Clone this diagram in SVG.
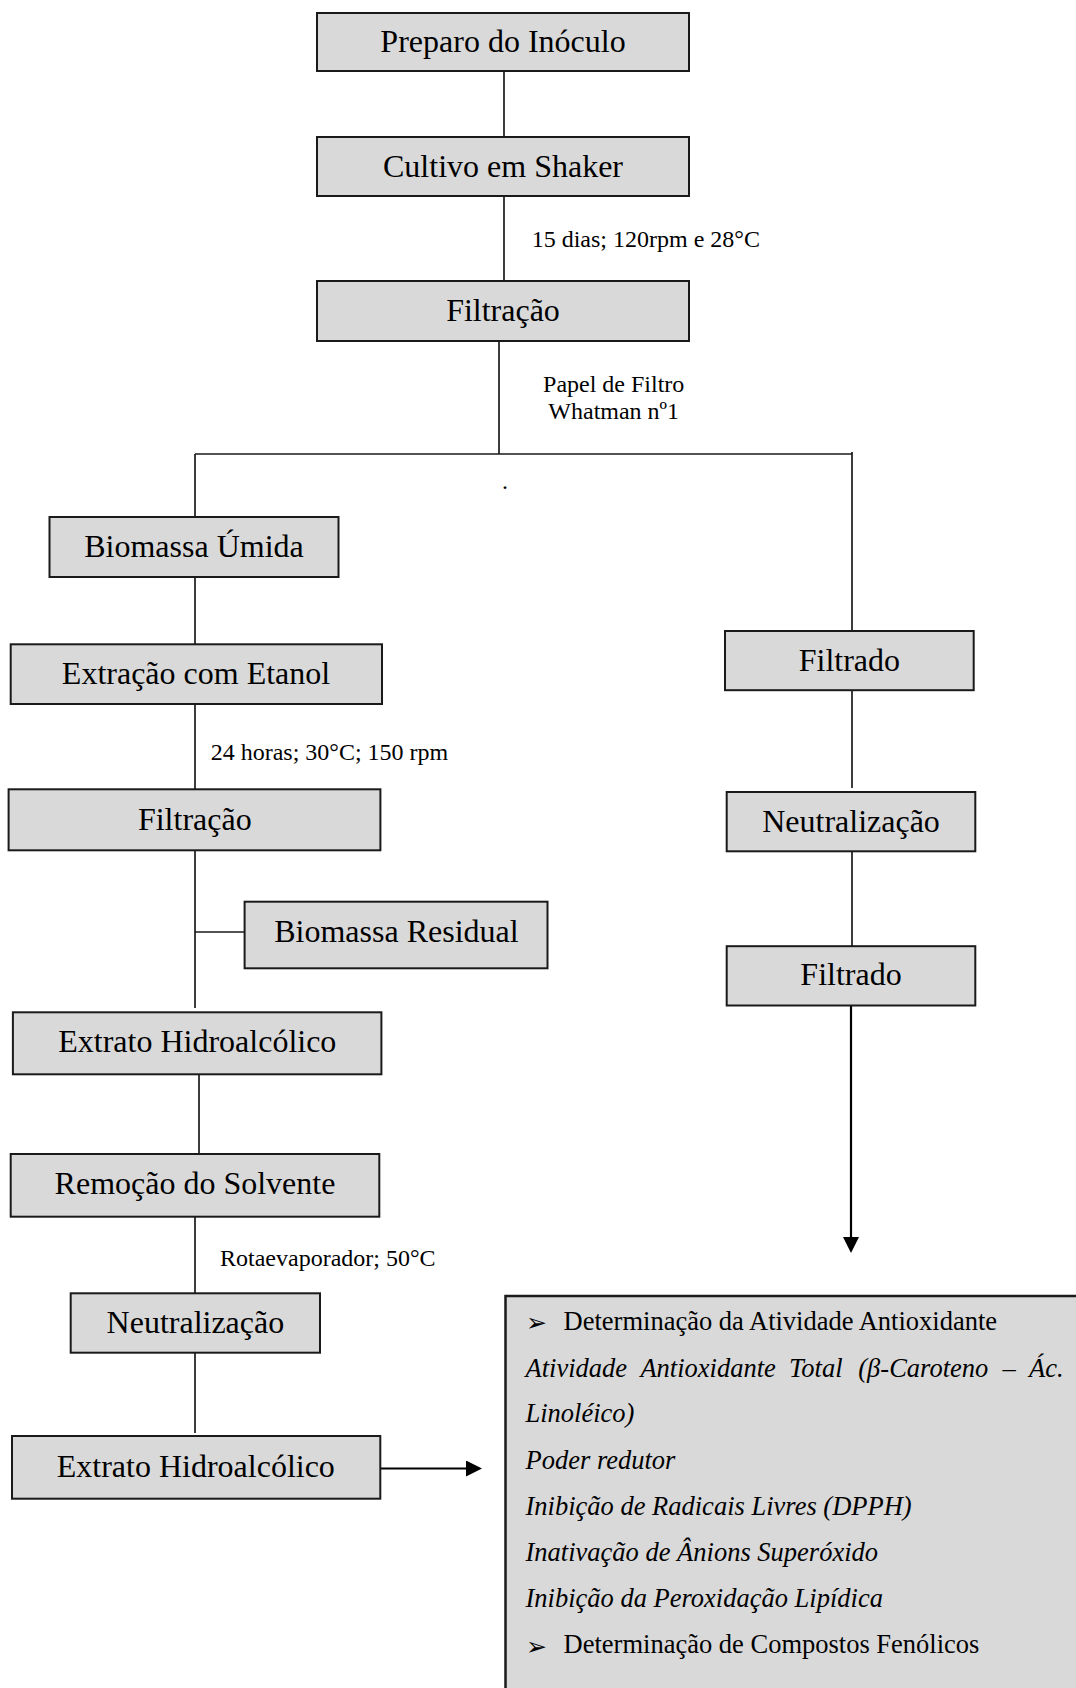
<svg xmlns="http://www.w3.org/2000/svg" width="1076" height="1688" viewBox="0 0 1076 1688">
<style>
.box{fill:#d9d9d9;stroke:#1a1a1a;stroke-width:2}
.t{font-family:"Liberation Serif","Times New Roman",serif;font-size:32px;fill:#000;text-anchor:middle}
.lbl{font-family:"Liberation Serif","Times New Roman",serif;font-size:24px;fill:#000}
.li{font-family:"Liberation Serif","Times New Roman",serif;font-size:26.5px;fill:#000;font-style:italic}
.ln{font-family:"Liberation Serif","Times New Roman",serif;font-size:26.5px;fill:#000}
.bul{font-family:"DejaVu Sans",sans-serif;font-size:25px;fill:#000}
.c{fill:none;stroke:#1a1a1a;stroke-width:1.7}
.a{fill:none;stroke:#000;stroke-width:2.2}
</style>
<defs>
<marker id="ah" viewBox="0 0 16 16" markerWidth="16" markerHeight="16" refX="0" refY="8" orient="auto" markerUnits="userSpaceOnUse">
<path d="M0,0 L16,8 L0,16 z" fill="#000"/>
</marker>
</defs>
<rect width="1076" height="1688" fill="#fff"/>
<g id="connectors">
<path class="c" d="M504,71 V137"/>
<path class="c" d="M504,196 V281"/>
<path class="c" d="M499,341 V454"/>
<path class="c" d="M195,454 H852"/>
<path class="c" d="M195,454 V517"/>
<path class="c" d="M852,452 V631"/>
<path class="c" d="M195,577 V644"/>
<path class="c" d="M195,704 V789"/>
<path class="c" d="M195,850 V1008"/>
<path class="c" d="M195,932 H245"/>
<path class="c" d="M199,1070 V1154"/>
<path class="c" d="M195,1213 V1293"/>
<path class="c" d="M195,1353 V1433"/>
<path class="c" d="M852,690 V788"/>
<path class="c" d="M852,851 V948"/>
<path class="a" d="M380,1468.5 H466" marker-end="url(#ah)"/>
<path class="a" d="M851,1005 V1237" marker-end="url(#ah)"/>
</g>
<g id="lbl-cultivo"><text class="lbl" x="531.7" y="247">15 dias; 120rpm e 28°C</text></g>
<g id="lbl-papel"><text class="lbl" x="613.7" y="392" text-anchor="middle">Papel de Filtro</text><text class="lbl" x="613.7" y="419.3" text-anchor="middle">Whatman nº1</text></g>
<g id="lbl-dot"><text class="lbl" x="502" y="489">.</text></g>
<g id="lbl-extr"><text class="lbl" x="210.7" y="760">24 horas; 30°C; 150 rpm</text></g>
<g id="lbl-rota"><text class="lbl" x="220" y="1265.7">Rotaevaporador; 50°C</text></g>

<g id="n-preparo"><rect class="box" x="317" y="13" width="372" height="58"/><text class="t" x="503" y="52">Preparo do Inóculo</text></g>
<g id="n-cultivo"><rect class="box" x="317" y="137" width="372" height="59"/><text class="t" x="503" y="177">Cultivo em Shaker</text></g>
<g id="n-filtracao1"><rect class="box" x="317" y="281" width="372" height="60"/><text class="t" x="503" y="321">Filtração</text></g>
<g id="n-biomassa-umida"><rect class="box" x="49.5" y="517" width="289" height="60"/><text class="t" x="194" y="557">Biomassa Úmida</text></g>
<g id="n-extracao"><rect class="box" x="10.7" y="644.3" width="371.3" height="59.7"/><text class="t" x="196" y="683.5">Extração com Etanol</text></g>
<g id="n-filtracao2"><rect class="box" x="8.6" y="789.3" width="371.8" height="61"/><text class="t" x="194.8" y="829.5">Filtração</text></g>
<g id="n-biomassa-residual"><rect class="box" x="244.6" y="901.7" width="302.9" height="66.6"/><text class="t" x="396.4" y="942.3">Biomassa Residual</text></g>
<g id="n-extrato1"><rect class="box" x="12.9" y="1012.3" width="368.5" height="62"/><text class="t" x="197.3" y="1051.7">Extrato Hidroalcólico</text></g>
<g id="n-remocao"><rect class="box" x="10.7" y="1154" width="368.6" height="62.7"/><text class="t" x="195" y="1194.3">Remoção do Solvente</text></g>
<g id="n-neutral1"><rect class="box" x="70.7" y="1293.3" width="249.3" height="59.4"/><text class="t" x="195.4" y="1333.3">Neutralização</text></g>
<g id="n-extrato2"><rect class="box" x="12" y="1436" width="368.3" height="62.7"/><text class="t" x="195.8" y="1476.7">Extrato Hidroalcólico</text></g>
<g id="n-filtrado1"><rect class="box" x="725" y="631" width="248.7" height="59.2"/><text class="t" x="849.4" y="670.7">Filtrado</text></g>
<g id="n-neutral2"><rect class="box" x="726.7" y="792" width="248.6" height="59.3"/><text class="t" x="851" y="832.2">Neutralização</text></g>
<g id="n-filtrado2"><rect class="box" x="726.7" y="946.2" width="248.6" height="59.3"/><text class="t" x="851" y="985.3">Filtrado</text></g>

<g id="n-analises">
<rect x="505.5" y="1296" width="580" height="400" fill="#d9d9d9" stroke="#1a1a1a" stroke-width="2.5"/>
<text class="bul" x="526" y="1331">➢</text>
<text class="ln" x="563.6" y="1330">Determinação da Atividade Antioxidante</text>
<text class="li" y="1376.7"><tspan x="525.5">Atividade</tspan><tspan x="640.4">Antioxidante</tspan><tspan x="789">Total</tspan><tspan x="858.3">(β-Caroteno</tspan><tspan x="1002.5">–</tspan><tspan x="1029">Ác.</tspan></text>
<text class="li" x="525.5" y="1422.3">Linoléico)</text>
<text class="li" x="525.5" y="1469">Poder redutor</text>
<text class="li" x="525.5" y="1515">Inibição de Radicais Livres (DPPH)</text>
<text class="li" x="525.5" y="1560.7">Inativação de Ânions Superóxido</text>
<text class="li" x="525.5" y="1607.3">Inibição da Peroxidação Lipídica</text>
<text class="bul" x="526" y="1654.6">➢</text>
<text class="ln" x="563.6" y="1653.3">Determinação de Compostos Fenólicos</text>
</g>
</svg>
